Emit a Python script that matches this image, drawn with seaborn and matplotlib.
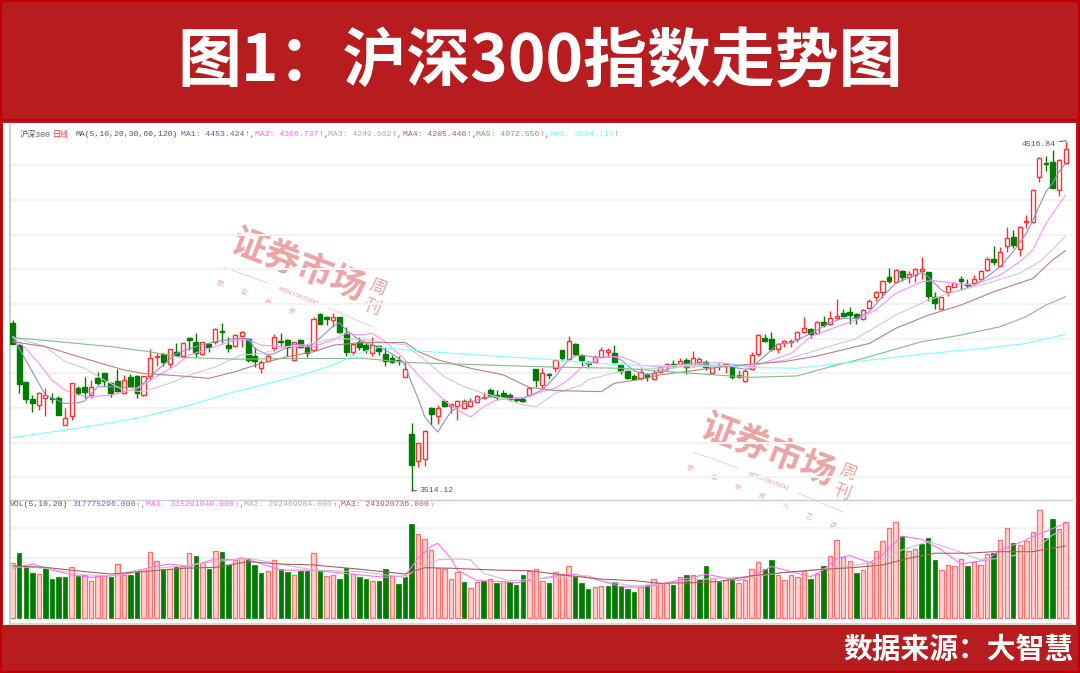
import matplotlib
matplotlib.use('Agg')
import matplotlib.pyplot as plt
from matplotlib.patches import Rectangle
import pandas as pd
import seaborn as sns

# candles, values
candle_dir = ("GGGGRRGGRR" "GGRGGGGRGG" "RRRGRGRGGR" "GRGGRRGGRR" "RGGRGGRGGR" "GGRG"
              "GRGGGGRGRR" "GRGRRRRRRG" "GGGGGRGRGR" "GRGGGRRRGG" "GGRGRRRGRG" "RRGRG"
              "RGRRRRGGRR" "RRRGRGRRGG" "GRRRRGRGRR" "RGGRRRGGRR" "RGRRGRRRRG" "GRR")
high_ = [4003, 3933, 3826, 3788, 3798, 3809, 3793, 3785, 3750, 3823, 3814, 3841, 3831, 3855, 3850, 3826, 3862, 3845,
         3848, 3845, 3843, 3919, 3908, 3908, 3919, 3936, 3938, 3955, 3965, 3941, 3936, 3979, 3996, 3955, 3963, 3972,
         3953, 3927, 3888, 3905, 3963, 3965, 3948, 3941, 3950, 3934, 4011, 4022, 4014, 4024, 4013, 3984, 3936, 3955,
         3937, 3954, 3932, 3927, 3903, 3900, 3884, 3707, 3652, 3688, 3753, 3760, 3776, 3763, 3774, 3776, 3779, 3789,
         3798, 3808, 3803, 3803, 3793, 3784, 3782, 3810, 3864, 3865, 3851, 3891, 3917, 3958, 3937, 3906, 3886, 3903,
         3927, 3922, 3931, 3879, 3862, 3848, 3868, 3852, 3860, 3872, 3881, 3889, 3893, 3894, 3913, 3898, 3889, 3874,
         3879, 3879, 3871, 3860, 3862, 3912, 3962, 3962, 3970, 3938, 3946, 3949, 3971, 4013, 3979, 4000, 4015, 4030,
         4063, 4034, 4039, 4024, 4034, 4062, 4085, 4118, 4153, 4148, 4146, 4144, 4151, 4183, 4141, 4082, 4070, 4103,
         4113, 4129, 4120, 4132, 4146, 4183, 4216, 4211, 4270, 4261, 4272, 4304, 4378, 4469, 4473, 4490, 4463, 4516.84]
body_top = [3995, 3931, 3826, 3776, 3795, 3788, 3781, 3781, 3723, 3822, 3809, 3812, 3812, 3836, 3850, 3822, 3829, 3831,
            3839, 3843, 3843, 3893, 3901, 3905, 3919, 3912, 3938, 3953, 3941, 3939, 3933, 3977, 3972, 3931, 3960, 3968,
            3950, 3900, 3884, 3901, 3955, 3943, 3946, 3939, 3946, 3925, 4006, 4020, 4013, 4011, 4011, 3965, 3934, 3941,
            3932, 3932, 3930, 3906, 3895, 3889, 3862, 3676, 3650, 3686, 3751, 3750, 3772, 3762, 3772, 3772, 3772, 3786,
            3784, 3803, 3789, 3793, 3787, 3777, 3777, 3808, 3862, 3851, 3849, 3889, 3916, 3943, 3934, 3900, 3882, 3898,
            3916, 3916, 3910, 3874, 3858, 3844, 3855, 3849, 3851, 3868, 3877, 3877, 3887, 3889, 3894, 3891, 3883, 3870,
            3874, 3876, 3869, 3845, 3858, 3903, 3960, 3953, 3950, 3934, 3942, 3943, 3968, 3981, 3976, 3998, 3998, 4008,
            4014, 4022, 4025, 4020, 4032, 4057, 4083, 4116, 4127, 4146, 4144, 4135, 4148, 4148, 4140, 4070, 4068, 4101,
            4110, 4120, 4106, 4120, 4143, 4177, 4179, 4199, 4239, 4240, 4270, 4287, 4376, 4467, 4452, 4456, 4461, 4492]
body_bot = [3933, 3819, 3776, 3766, 3759, 3781, 3776, 3731, 3702, 3728, 3793, 3798, 3788, 3824, 3829, 3795, 3801, 3793,
            3814, 3795, 3788, 3843, 3898, 3882, 3876, 3903, 3900, 3946, 3910, 3905, 3927, 3939, 3970, 3922, 3929, 3957,
            3888, 3886, 3865, 3886, 3923, 3939, 3927, 3888, 3927, 3910, 3917, 3993, 4007, 4003, 3970, 3912, 3912, 3927,
            3916, 3910, 3913, 3885, 3884, 3886, 3841, 3588, 3598, 3604, 3733, 3729, 3757, 3757, 3757, 3752, 3757, 3769,
            3779, 3786, 3784, 3784, 3777, 3774, 3772, 3789, 3830, 3817, 3846, 3865, 3895, 3891, 3906, 3889, 3877, 3882,
            3898, 3912, 3882, 3858, 3838, 3834, 3836, 3839, 3833, 3855, 3872, 3873, 3877, 3868, 3872, 3883, 3868, 3852,
            3870, 3872, 3841, 3839, 3829, 3862, 3905, 3944, 3919, 3919, 3936, 3939, 3948, 3968, 3963, 3965, 3988, 3992,
            4009, 4015, 4017, 4008, 4005, 4038, 4068, 4084, 4114, 4113, 4125, 4127, 4132, 4144, 4073, 4053, 4036, 4084,
            4099, 4114, 4102, 4108, 4120, 4146, 4168, 4158, 4215, 4218, 4206, 4283, 4284, 4414, 4449, 4382, 4377, 4454]
low_ = [3933, 3793, 3764, 3740, 3745, 3728, 3764, 3731, 3702, 3716, 3788, 3779, 3779, 3817, 3814, 3783, 3798, 3791,
        3812, 3781, 3785, 3831, 3871, 3871, 3865, 3900, 3898, 3917, 3898, 3903, 3912, 3934, 3938, 3912, 3925, 3927,
        3884, 3869, 3850, 3884, 3915, 3927, 3900, 3887, 3922, 3896, 3915, 3992, 3989, 3984, 3965, 3900, 3903, 3917,
        3910, 3900, 3903, 3870, 3879, 3874, 3841, 3514.12, 3583, 3585, 3703, 3705, 3753, 3736, 3717, 3747, 3753, 3765,
        3776, 3782, 3774, 3779, 3772, 3767, 3767, 3786, 3812, 3808, 3833, 3855, 3887, 3889, 3903, 3872, 3865, 3879,
        3896, 3898, 3879, 3849, 3834, 3832, 3830, 3827, 3830, 3853, 3858, 3865, 3872, 3849, 3868, 3870, 3860, 3849,
        3860, 3850, 3833, 3836, 3826, 3860, 3900, 3941, 3915, 3909, 3925, 3927, 3941, 3965, 3953, 3963, 3984, 3989,
        4005, 4013, 3992, 3992, 4003, 4035, 4058, 4065, 4108, 4110, 4116, 4108, 4113, 4122, 4058, 4036, 4035, 4072,
        4097, 4089, 4094, 4103, 4118, 4144, 4161, 4154, 4199, 4208, 4186, 4266, 4282, 4399, 4430, 4380, 4358, 4450]

# price moving averages, read at the bends of each line
ma1_i = [0, 5, 8, 10, 11, 13, 15, 19, 20, 21, 23, 25, 28, 31, 34, 36, 37, 39, 40, 43, 45, 46, 49, 50, 51, 53, 54, 56, 57, 58,
         59, 60, 61, 62, 63, 64, 65, 66, 67, 69, 71, 73, 76, 78, 79, 81, 83, 84, 85, 86, 87, 89, 92, 93, 95, 97, 99, 102, 104,
         107, 109, 111, 112, 113, 114, 116, 117, 119, 121, 123, 125, 127, 129, 131, 133, 135, 137, 139, 140, 142, 143, 145,
         147, 149, 151, 153, 155, 156, 158, 159, 160, 161]
ma1_v = [3955, 3788, 3764, 3766, 3771, 3812, 3812, 3809, 3822, 3841, 3874, 3907, 3927, 3941, 3950, 3950, 3922, 3903, 3907, 3934,
         3927, 3934, 3986, 3995, 3974, 3946, 3937, 3927, 3917, 3906, 3894, 3874, 3822, 3779, 3726, 3703, 3682, 3712, 3741, 3763,
         3774, 3784, 3779, 3779, 3786, 3803, 3841, 3868, 3889, 3900, 3903, 3896, 3898, 3889, 3858, 3846, 3855, 3874, 3879, 3871,
         3874, 3865, 3862, 3865, 3884, 3917, 3934, 3938, 3955, 3974, 3996, 4008, 4008, 4027, 4070, 4108, 4124, 4139, 4127, 4089,
         4079, 4089, 4103, 4127, 4156, 4199, 4251, 4289, 4371, 4395, 4428, 4452]
ma2_i = [0, 2, 4, 6, 8, 10, 12, 15, 19, 22, 25, 27, 31, 34, 36, 38, 42, 46, 49, 51, 53, 55, 57, 60, 62, 64, 66, 68, 70, 72, 74,
         77, 79, 81, 83, 85, 87, 90, 93, 95, 96, 99, 102, 105, 108, 113, 116, 119, 122, 126, 129, 132, 135, 139, 141, 144, 147,
         149, 151, 154, 156, 158, 161]
ma2_v = [3955, 3922, 3879, 3831, 3802, 3788, 3783, 3788, 3807, 3841, 3874, 3903, 3927, 3946, 3946, 3931, 3927, 3927, 3946, 3965,
         3960, 3965, 3941, 3889, 3846, 3808, 3772, 3746, 3725, 3755, 3774, 3779, 3784, 3798, 3808, 3832, 3868, 3898, 3898, 3884,
         3874, 3868, 3874, 3879, 3881, 3869, 3888, 3907, 3955, 3984, 4003, 4032, 4079, 4113, 4116, 4108, 4103, 4118, 4132, 4170,
         4204, 4280, 4361]
ma3_i = [0, 5, 8, 11, 14, 17, 20, 24, 27, 31, 35, 38, 42, 46, 49, 53, 60, 63, 66, 69, 72, 75, 78, 80, 83, 87, 88, 92, 95, 99, 104,
         108, 113, 118, 123, 129, 132, 135, 140, 144, 149, 154, 157, 159, 161]
ma3_v = [3955, 3927, 3884, 3865, 3831, 3802, 3798, 3822, 3845, 3869, 3903, 3907, 3927, 3936, 3950, 3948, 3932, 3889, 3841, 3812,
         3793, 3779, 3760, 3755, 3793, 3817, 3832, 3852, 3862, 3865, 3870, 3870, 3874, 3888, 3917, 3950, 3984, 4017, 4060, 4084,
         4108, 4137, 4170, 4204, 4244]
ma4_i = [0, 5, 11, 17, 20, 24, 27, 30, 34, 38, 42, 46, 49, 53, 60, 62, 65, 70, 75, 79, 83, 90, 92, 96, 99, 104, 108, 113, 118, 123,
         131, 135, 140, 145, 150, 156, 159, 161]
ma4_v = [3941, 3927, 3893, 3860, 3850, 3845, 3841, 3836, 3855, 3879, 3898, 3912, 3931, 3938, 3939, 3913, 3889, 3865, 3846, 3810,
         3801, 3798, 3822, 3833, 3846, 3858, 3868, 3877, 3884, 3900, 3936, 3979, 4017, 4046, 4084, 4122, 4175, 4202]
ma5_i = [0, 7, 15, 21, 26, 34, 44, 51, 53, 61, 73, 83, 93, 102, 108, 113, 120, 124, 130, 139, 145, 151, 155, 158, 161]
ma5_v = [3953, 3941, 3927, 3912, 3896, 3891, 3893, 3893, 3894, 3881, 3874, 3868, 3865, 3853, 3845, 3839, 3843, 3864, 3893, 3941,
         3960, 3984, 4013, 4046, 4070]
ma6_i = [0, 8, 13, 20, 27, 34, 44, 49, 53, 56, 61, 71, 83, 89, 97, 108, 113, 120, 129, 139, 150, 155, 161]
ma6_v = [3666, 3688, 3702, 3726, 3759, 3798, 3845, 3874, 3909, 3925, 3916, 3903, 3889, 3879, 3872, 3874, 3867, 3865, 3884, 3905,
         3925, 3936, 3962]

# volume in millions
vol_dir = ("RGGGRGGGGR" "GRRRRGRRGG" "RRRGRGRRGR" "GRGGRRGGGR" "RGGRGGRGRR" "GGRG"
           "GRGGRGGGRR" "RRRRRGRRGR" "GRGGGRRRGR" "RRGGGRRGGG" "GGRGRRRGRG" "RGGRG"
           "RGRRRRGGRR" "RRRGRGRRRR" "GRRRRRRGRR" "GGGRRRRGRR" "RGRRGRRRRG" "GRR")
vol_m = [185, 216, 174, 149, 146, 166, 130, 136, 136, 169, 142, 144, 125, 141, 141, 136, 180, 144, 145, 157, 165, 221, 189, 165,
         163, 169, 174, 216, 208, 183, 163, 225, 221, 176, 192, 200, 196, 176, 149, 156, 192, 165, 153, 145, 156, 156, 216, 161,
         139, 143, 132, 166, 147, 136, 130, 125, 125, 165, 141, 113, 138, 312, 280, 262, 227, 168, 165, 132, 155, 122, 102, 120,
         124, 130, 116, 123, 122, 111, 143, 158, 163, 124, 116, 152, 146, 172, 136, 116, 97, 105, 108, 107, 120, 108, 96, 87, 103,
         112, 130, 116, 118, 110, 136, 144, 143, 131, 172, 133, 122, 127, 127, 116, 127, 163, 186, 163, 194, 143, 127, 144, 138,
         156, 130, 147, 172, 208, 261, 205, 190, 149, 160, 187, 222, 258, 300, 319, 272, 224, 229, 247, 266, 195, 159, 178, 175,
         196, 173, 188, 178, 214, 218, 260, 300, 249, 244, 258, 288, 358, 268, 331, 296, 318]
vma1_i = [0, 3, 6, 9, 12, 15, 18, 21, 24, 27, 31, 34, 35, 39, 41, 45, 49, 53, 57, 60, 62, 64, 65, 67, 68, 71, 75, 77, 79, 83, 86,
          89, 93, 96, 99, 102, 106, 108, 111, 114, 116, 119, 122, 124, 126, 128, 131, 133, 136, 139, 142, 145, 149, 151, 154, 157,
          161]
vma1_v = [166, 180, 160, 144, 136, 141, 149, 169, 180, 172, 197, 194, 201, 174, 160, 160, 153, 144, 136, 141, 199, 240, 249, 199,
          160, 125, 122, 118, 125, 141, 146, 130, 105, 103, 113, 127, 146, 138, 125, 149, 172, 155, 138, 161, 199, 208, 185, 210,
          273, 262, 227, 180, 194, 227, 251, 280, 315]
vma2_i = [0, 5, 11, 15, 19, 26, 31, 36, 41, 46, 53, 60, 62, 65, 68, 70, 72, 76, 80, 83, 88, 90, 95, 100, 104, 108, 113, 118, 123,
          129, 133, 136, 140, 144, 148, 151, 156, 159, 161]
vma2_v = [172, 166, 144, 141, 160, 174, 188, 199, 180, 160, 155, 136, 166, 194, 197, 194, 149, 125, 130, 136, 141, 125, 107, 116,
          127, 133, 138, 152, 161, 177, 194, 227, 255, 227, 194, 199, 221, 277, 293]
vma3_i = [0, 5, 11, 15, 20, 26, 31, 36, 41, 46, 53, 60, 63, 67, 74, 79, 84, 90, 95, 99, 104, 108, 113, 118, 123, 129, 133, 137,
          141, 146, 150, 156, 158, 161]
vma3_v = [174, 169, 155, 147, 155, 166, 169, 188, 180, 177, 163, 147, 168, 166, 160, 158, 144, 130, 125, 116, 118, 122, 141, 152,
          161, 169, 177, 199, 216, 216, 221, 221, 229, 240]

grid_price = [3553, 3652, 3752, 3851, 3950, 4050, 4149, 4248, 4348, 4447]
grid_vol = [100, 200, 300]

ma_labels = ['MA1: 4453.424', 'MA2: 4366.737', 'MA3: 4249.662', 'MA4: 4205.446', 'MA5: 4072.556', 'MA6: 3964.113']
vol_labels = ['317775296.000', 'MA1: 315291040.000', 'MA2: 292469984.000', 'MA3: 243920736.000']

RED_BG = '#b71c1f'
C_UP = '#ff3030'
C_DOWN = '#007d00'
MA_COLORS = ['#9090cc', '#ff90ff', '#cccccc', '#ba8080', '#88bb88', '#80ffff']
VMA_COLORS = ['#ff70ff', '#c4c4c4', '#a86060']
CJK = ['Noto Sans CJK SC', 'DejaVu Sans']
MONO = ['Liberation Mono', 'Noto Sans CJK SC', 'DejaVu Sans']

sns.set_theme(style='white')
plt.rcParams['font.family'] = CJK
plt.rcParams['axes.unicode_minus'] = False

W, H = 1080, 673
fig = plt.figure(figsize=(W / 100, H / 100), dpi=100, facecolor=RED_BG)


def fx(x):
    return x / W


def fy(y):
    return 1 - y / H


def put(x, y, s, color='#555555', size=5.9, family=MONO, **kw):
    kw.setdefault('va', 'center')
    fig.text(fx(x), fy(y), s, color=color, fontsize=size, family=family, **kw)


# frame and white panel, under the axes
fig.add_artist(Rectangle((fx(3), fy(625)), fx(1073), 502 / H, transform=fig.transFigure,
                         facecolor='white', edgecolor='none', zorder=-5))
fig.add_artist(Rectangle((0, fy(121)), 1, 2.5 / H, transform=fig.transFigure,
                         facecolor='#c00000', edgecolor='none', zorder=-4))
fig.add_artist(Rectangle((0, 0), 1, 1, transform=fig.transFigure, fill=False,
                         edgecolor='#c00000', linewidth=3, zorder=-4))

# price pane
ax = fig.add_axes([fx(10), fy(500), fx(1062), 375 / H], facecolor='none')
ax.set_xlim(-0.41, 161.98)
ax.set_ylim(3487.5, 4561.8)
for g in grid_price:
    ax.axhline(g, color='#f2f2f2', lw=1.5, zorder=1)

candles = pd.DataFrame({'i': range(len(high_)), 'dir': list(candle_dir), 'high': high_,
                        'top': body_top, 'bot': body_bot, 'low': low_})
for d, col, w in [('R', C_UP, 0.62), ('G', C_DOWN, 0.74)]:
    sub = candles[candles['dir'] == d]
    ax.vlines(sub['i'], sub['low'], sub['high'], color=col, lw=1.0, zorder=3)
    ax.bar(sub['i'], sub['top'] - sub['bot'], bottom=sub['bot'], width=w,
           facecolor='white' if d == 'R' else col, edgecolor=col, linewidth=1.0, zorder=4)

ma_lines = [(ma1_i, ma1_v), (ma2_i, ma2_v), (ma3_i, ma3_v), (ma4_i, ma4_v), (ma5_i, ma5_v), (ma6_i, ma6_v)]
for (xs, ys), col in zip(ma_lines, MA_COLORS):
    sns.lineplot(x=xs, y=ys, ax=ax, color=col, lw=0.8, errorbar=None, zorder=5)

ax.annotate('3514.12', xy=(61, low_[61]), xytext=(6, 0), textcoords='offset points', va='center', ha='left',
            fontsize=5.9, family=MONO, color='#555555', arrowprops=dict(arrowstyle='-', color='#555555', lw=0.7, shrinkA=0, shrinkB=0))
ax.annotate('4516.84', xy=(161, high_[161]), xytext=(-7, -3), textcoords='offset points', va='center', ha='right',
            fontsize=5.9, family=MONO, color='#555555', arrowprops=dict(arrowstyle='-', color='#555555', lw=0.7, shrinkA=0, shrinkB=0))

ax.set_xticks([])
ax.set_yticks([])
ax.set_xlabel('')
ax.set_ylabel('')
sns.despine(ax=ax, top=True, right=True)
ax.spines['left'].set_color('#cfcfcf')
ax.spines['left'].set_linewidth(1.4)
ax.spines['bottom'].set_color('#cccccc')
ax.spines['bottom'].set_linewidth(1.0)

# volume pane
ax2 = fig.add_axes([fx(10), fy(624), fx(1062), 123.5 / H], facecolor='none')
vol = pd.DataFrame({'i': range(len(vol_m)), 'vol': vol_m, 'dir': list(vol_dir)})
for g in grid_vol:
    ax2.axhline(g, color='#f2f2f2', lw=1.5, zorder=0)
sns.barplot(data=vol[vol['dir'] == 'R'], x='i', y='vol', native_scale=True, ax=ax2, width=0.68, color='#ffd2d2',
            saturation=1, edgecolor='#ff7070', linewidth=0.9, errorbar=None, zorder=2)
sns.barplot(data=vol[vol['dir'] == 'G'], x='i', y='vol', native_scale=True, ax=ax2, width=0.68, color=C_DOWN,
            saturation=1, edgecolor=C_DOWN, linewidth=0.5, errorbar=None, zorder=2)
vma_lines = [(vma1_i, vma1_v), (vma2_i, vma2_v), (vma3_i, vma3_v)]
for (xs, ys), col in zip(vma_lines, VMA_COLORS):
    sns.lineplot(x=xs, y=ys, ax=ax2, color=col, lw=0.8, errorbar=None, zorder=3)
ax2.set_xlim(-0.41, 161.98)
ax2.set_ylim(-19, 391)
ax2.set_xticks([])
ax2.set_yticks([])
ax2.set_xlabel('')
ax2.set_ylabel('')
sns.despine(ax=ax2, top=True, right=True)
ax2.spines['left'].set_color('#cfcfcf')
ax2.spines['left'].set_linewidth(1.4)
ax2.spines['bottom'].set_color('#cfcfcf')
ax2.spines['bottom'].set_linewidth(1.2)

# headers
y_head = 135
put(20, y_head, '沪深300')
put(53, y_head, '日线', color='#ff3030')
put(76, y_head, 'MA(5,10,20,30,60,120)')
xs_ma = [181, 255, 328, 403, 476, 550]
for x0, lab, col in zip(xs_ma, ma_labels, ['#5a5ab0', '#ff66ff', '#aaaaaa', '#a86060', '#68a868', '#66ffff']):
    put(x0, y_head, lab, color=col)
    put(x0 + 64, y_head, '↑', color='#ff3030')
    if x0 != 550:
        put(x0 + 69, y_head, ',', color='#555555')

y_vol = 505
put(10, y_vol, 'VOL(5,10,20)')
xs_vol = [72, 146, 244, 341]
for x0, lab, col in zip(xs_vol, vol_labels, ['#6a6ab8', '#ff66ff', '#aaaaaa', '#a86060']):
    put(x0, y_vol, lab, color=col)
    end_x = x0 + len(lab) * 4.9
    put(end_x + 0.5, y_vol, '↑', color='#ff3030', size=5.2)
    if x0 != 341:
        put(end_x + 4.5, y_vol, ',', color='#555555', size=5)

# title and source
put(540, 62, '图1：沪深300指数走势图', color='white', size=46, family=CJK, weight='bold', ha='center')
put(1073, 649, '数据来源：大智慧', color='white', size=20.7, family=CJK, weight='bold', ha='right')


# watermark, drawn below the candles
def watermark(dx, dy):
    pink = '#eba4a4'
    put(299 + dx, 266 + dy, '证券市场', color=pink, size=25.5, family=CJK, weight='bold', ha='center',
        rotation=-21, rotation_mode='anchor', zorder=-1)
    put(378 + dx, 287 + dy, '周', color=pink, size=12.5, family=CJK, weight='medium', ha='center', rotation=-21, rotation_mode='anchor', zorder=-1)
    put(372 + dx, 307 + dy, '刊', color=pink, size=12.5, family=CJK, weight='medium', ha='center', rotation=-21, rotation_mode='anchor', zorder=-1)
    for k, ch in enumerate('职业投资人之选'):
        put(220 + dx + k * 23.7, 283 + dy + k * 9.6, ch, color=pink, size=4.8, family=CJK, ha='center',
            rotation=-21, rotation_mode='anchor', zorder=-1)
    put(298 + dx, 296 + dy, 'WEEKLY ON STOCKS', color='#e09090', size=3.2, family=CJK, ha='center',
        rotation=-21, rotation_mode='anchor', zorder=-1)
    for x1, y1, x2, y2 in [(223, 267, 268, 283), (328, 308, 373, 327)]:
        fig.add_artist(plt.Line2D([fx(x1 + dx), fx(x2 + dx)], [fy(y1 + dy), fy(y2 + dy)], color='#f4c4c4', lw=0.6, zorder=-1))


watermark(0, 0)
watermark(470, 185)

fig.savefig('out.png', dpi=100, facecolor=fig.get_facecolor())
